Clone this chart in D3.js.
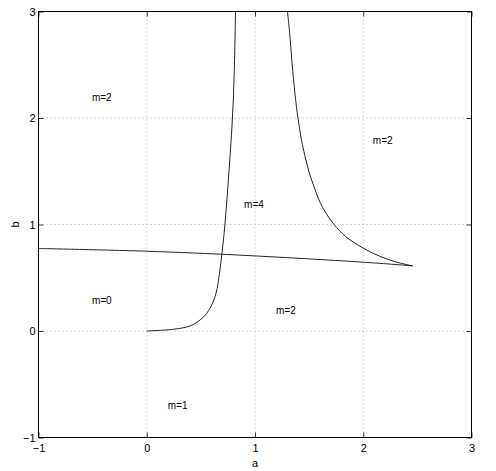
<!DOCTYPE html>
<html>
<head>
<meta charset="utf-8">
<script src="https://cdn.jsdelivr.net/npm/d3@7"></script>
<style>
  body { margin: 0; background: #fff; }
  text { font-family: "Liberation Sans", Arial, sans-serif; fill: #000; }
</style>
</head>
<body>
<svg width="496" height="471"></svg>
<script>
// boundary curves in the (a, b) plane
let leftA  = [0, 0.245, 0.399, 0.492, 0.554, 0.600, 0.640, 0.672, 0.693, 0.710, 0.728, 0.750, 0.772, 0.792, 0.808, 0.820];
let leftB  = [0, 0.016, 0.047, 0.103, 0.166, 0.244, 0.354, 0.542, 0.714, 0.870, 1.070, 1.360, 1.680, 2.010, 2.420, 3.005];

let rightA = [1.30, 1.32, 1.342, 1.37, 1.397, 1.43, 1.46, 1.50, 1.54, 1.60, 1.66, 1.73, 1.84, 2.00, 2.15, 2.30, 2.457];
let rightB = [3.00, 2.80, 2.52, 2.22, 2.00, 1.79, 1.65, 1.49, 1.37, 1.21, 1.10, 1.00, 0.885, 0.778, 0.703, 0.649, 0.611];

let lineA  = [-1, 0, 0.85, 2.0, 2.457];
let lineB  = [0.775, 0.749, 0.713, 0.646, 0.612];

// region labels
let regionText = ["m=2", "m=2", "m=4", "m=0", "m=2", "m=1"];
let regionA    = [-0.415, 2.18, 0.99, -0.415, 1.285, 0.286];
let regionB    = [2.19, 1.79, 1.19, 0.29, 0.196, -0.70];

let xTicks = [-1, 0, 1, 2, 3];
let yTicks = [-1, 0, 1, 2, 3];

let svg = d3.select("svg");

let x = d3.scaleLinear().domain([-1, 3]).range([38.5, 471.5]);
let y = d3.scaleLinear().domain([-1, 3]).range([437.5, 11.5]);

// grid
let grid = svg.append("g")
    .attr("stroke", "#b0b0b0")
    .attr("stroke-width", 1)
    .attr("stroke-dasharray", "1,3");

grid.selectAll(".gx")
    .data(xTicks.slice(1, -1))
    .enter().append("line")
    .attr("x1", d => x(d)).attr("x2", d => x(d))
    .attr("y1", y(3)).attr("y2", y(-1));

grid.selectAll(".gy")
    .data(yTicks.slice(1, -1))
    .enter().append("line")
    .attr("y1", d => y(d)).attr("y2", d => y(d))
    .attr("x1", x(-1)).attr("x2", x(3));

// axes, ticks pointing inward
function styleAxis(g) {
    g.select(".domain").remove();
    g.selectAll(".tick line").attr("stroke", "#333");
    g.selectAll("text")
        .style("font-family", "'Liberation Sans', Arial, sans-serif")
        .style("font-size", "11px")
        .attr("fill", "#000");
}

svg.append("g")
    .attr("transform", "translate(0," + y(-1) + ")")
    .call(d3.axisBottom(x).tickValues(xTicks).tickFormat(d3.format("d"))
        .tickSizeInner(-5).tickSizeOuter(0).tickPadding(7))
    .call(styleAxis);

svg.append("g")
    .attr("transform", "translate(0," + y(3) + ")")
    .call(d3.axisTop(x).tickValues(xTicks).tickFormat("")
        .tickSizeInner(-5).tickSizeOuter(0))
    .call(styleAxis);

svg.append("g")
    .attr("transform", "translate(" + x(-1) + ",0)")
    .call(d3.axisLeft(y).tickValues(yTicks).tickFormat(d3.format("d"))
        .tickSizeInner(-5).tickSizeOuter(0).tickPadding(3))
    .call(styleAxis);

svg.append("g")
    .attr("transform", "translate(" + x(3) + ",0)")
    .call(d3.axisRight(y).tickValues(yTicks).tickFormat("")
        .tickSizeInner(-5).tickSizeOuter(0))
    .call(styleAxis);

// box
svg.append("rect")
    .attr("x", x(-1)).attr("y", y(3))
    .attr("width", x(3) - x(-1)).attr("height", y(-1) - y(3))
    .attr("fill", "none")
    .attr("stroke", "#000")
    .attr("stroke-width", 1);

// curves
svg.append("clipPath").attr("id", "plotclip")
    .append("rect")
    .attr("x", x(-1)).attr("y", y(3))
    .attr("width", x(3) - x(-1)).attr("height", y(-1) - y(3));

let line = d3.line()
    .x(d => x(d[0]))
    .y(d => y(d[1]))
    .curve(d3.curveCatmullRom.alpha(0.5));

let curves = [
    d3.zip(leftA, leftB),
    d3.zip(rightA, rightB),
    d3.zip(lineA, lineB)
];

svg.append("g")
    .attr("clip-path", "url(#plotclip)")
    .selectAll("path")
    .data(curves)
    .enter().append("path")
    .attr("d", line)
    .attr("fill", "none")
    .attr("stroke", "#222")
    .attr("stroke-width", 1);

// region labels
svg.selectAll(".region")
    .data(regionText)
    .enter().append("text")
    .attr("x", (d, i) => x(regionA[i]))
    .attr("y", (d, i) => y(regionB[i]))
    .attr("dy", "0.35em")
    .attr("text-anchor", "middle")
    .style("font-size", "10px")
    .text(d => d);

// axis titles
svg.append("text")
    .attr("x", x(1))
    .attr("y", 467)
    .attr("text-anchor", "middle")
    .style("font-size", "11px")
    .text("a");

svg.append("text")
    .attr("transform", "translate(19," + y(1) + ") rotate(-90)")
    .attr("text-anchor", "middle")
    .style("font-size", "11px")
    .text("b");
</script>
</body>
</html>
